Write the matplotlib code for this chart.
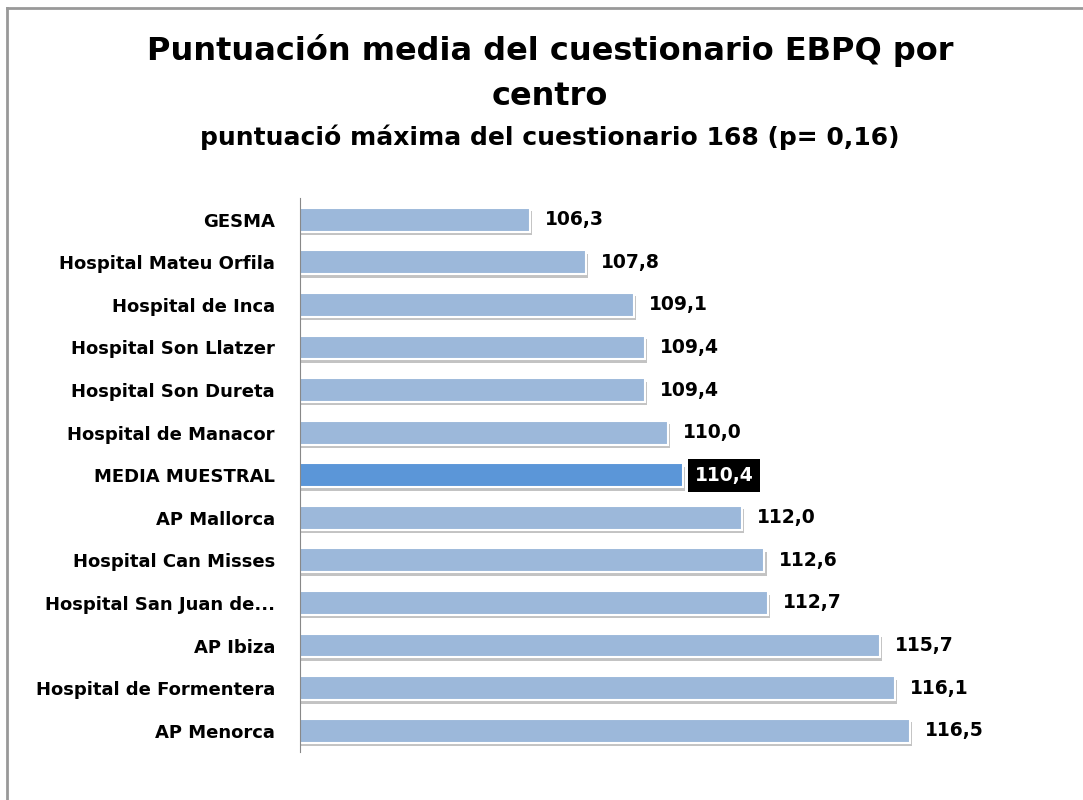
import matplotlib
matplotlib.use("Agg")
import matplotlib.pyplot as plt
import matplotlib.patheffects as pe
from matplotlib.lines import Line2D

plt.rcParams["font.family"] = ["DejaVu Sans"]

centros = ["GESMA", "Hospital Mateu Orfila", "Hospital de Inca", "Hospital Son Llatzer",
           "Hospital Son Dureta", "Hospital de Manacor", "MEDIA MUESTRAL", "AP Mallorca",
           "Hospital Can Misses", "Hospital San Juan de...", "AP Ibiza",
           "Hospital de Formentera", "AP Menorca"]
puntuacion = [106.3, 107.8, 109.1, 109.4, 109.4, 110.0, 110.4, 112.0, 112.6, 112.7,
              115.7, 116.1, 116.5]
destacado = "MEDIA MUESTRAL"

fig = plt.figure(figsize=(10.83, 8.0), dpi=100)
ax = fig.add_axes([0.277, 0.06, 0.69, 0.692])

colores = ["#5B96D8" if c == destacado else "#9CB8DA" for c in centros]
pos = list(range(len(centros)))
bars = ax.barh(pos, puntuacion, left=0, height=0.56, color=colores,
               edgecolor="white", linewidth=1.5)
for b in bars:
    b.set_path_effects([pe.SimplePatchShadow(offset=(1.5, -2.5), shadow_rgbFace="#888888", alpha=0.5),
                        pe.Normal()])

ax.set_xlim(100.12, 120.2)
ax.set_ylim(len(centros) - 0.5, -0.5)
ax.set_yticks(pos)
ax.set_yticklabels(centros, fontsize=13, fontweight="bold")
ax.tick_params(axis="y", length=0, pad=18)
ax.set_xticks([])
for s in ["top", "right", "bottom"]:
    ax.spines[s].set_visible(False)
ax.spines["left"].set_color("#888888")

for c, v, p in zip(centros, puntuacion, pos):
    txt = f"{v:.1f}".replace(".", ",")
    if c == destacado:
        ax.text(v + 0.32, p, txt, va="center", ha="left", fontsize=13.5, fontweight="bold",
                color="white", bbox=dict(facecolor="black", edgecolor="none", pad=5))
    else:
        ax.text(v + 0.4, p, txt, va="center", ha="left", fontsize=13.5, fontweight="bold",
                color="black")

fig.text(0.508, 0.937, "Puntuación media del cuestionario EBPQ por", ha="center", va="center",
         fontsize=23, fontweight="bold")
fig.text(0.508, 0.879, "centro", ha="center", va="center", fontsize=23, fontweight="bold")
fig.text(0.508, 0.828, "puntuació máxima del cuestionario 168 (p= 0,16)", ha="center",
         va="center", fontsize=18, fontweight="bold")

# marco gris
fig.add_artist(Line2D([7 / 1083, 7 / 1083], [0, 1 - 8 / 800], color="#999999", lw=2))
fig.add_artist(Line2D([7 / 1083, 1], [1 - 8 / 800, 1 - 8 / 800], color="#999999", lw=2))

fig.savefig("out.png", dpi=100)
